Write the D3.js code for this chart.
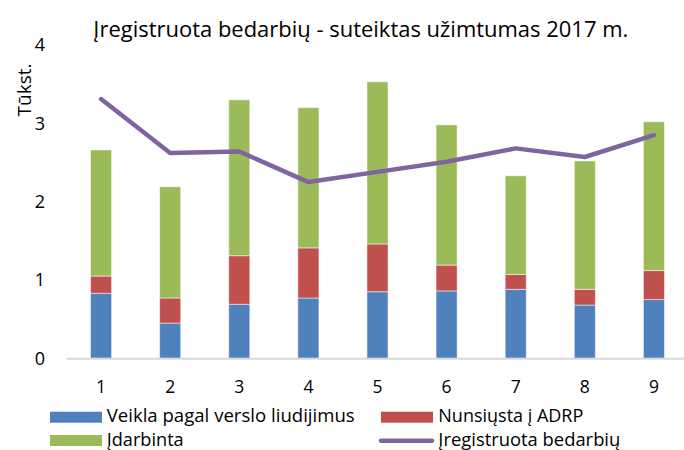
<!DOCTYPE html>
<html><head><meta charset="utf-8">
<script src="https://cdn.jsdelivr.net/npm/d3@7"></script>
<style>body{margin:0;background:#fff}svg{display:block}text{font-family:"Open Sans",sans-serif;fill:#000}</style>
</head><body><svg id="c" width="684" height="450"></svg>
<script>
const categories = ["1","2","3","4","5","6","7","8","9"];
const veikla = [0.83,0.45,0.69,0.77,0.85,0.86,0.88,0.68,0.75];
const nunsiusta = [0.22,0.32,0.62,0.64,0.61,0.33,0.19,0.20,0.37];
const idarbinta = [1.61,1.42,1.99,1.79,2.07,1.79,1.26,1.64,1.90];
const registruota = [3.31,2.62,2.64,2.25,2.38,2.51,2.68,2.57,2.85];
const yTicks = [0,1,2,3,4];
const seriesNames = ["Veikla pagal verslo liudijimus","Nunsiųsta į ADRP","Įdarbinta","Įregistruota bedarbių"];
const colors = ["#4F81BD","#C0504D","#9BBB59","#8064A2"];

const svg = d3.select("#c");
const x = d3.scaleBand().domain(categories).range([66.5,688.5]).paddingInner(0.695).paddingOuter(0.3475);
const y = d3.scaleLinear().domain([0,4]).range([358.3,45]);

const rows = categories.map((c,i)=>({cat:c, v:veikla[i], n:nunsiusta[i], d:idarbinta[i]}));
const stack = d3.stack().keys(["v","n","d"])(rows);

svg.append("text").attr("x",93.3).attr("y",37).attr("text-anchor","start")
  .attr("font-size",22).attr("textLength",535).attr("lengthAdjust","spacingAndGlyphs")
  .text("Įregistruota bedarbių - suteiktas užimtumas 2017 m.");

// y tick labels
svg.append("g").selectAll("text").data(yTicks).join("text")
  .attr("x",40).attr("y",d=>y(d)).attr("dy","0.36em").attr("text-anchor","middle")
  .attr("font-size",18).text(d=>d);

svg.append("text").attr("transform","translate(31,90) rotate(-90)").attr("text-anchor","middle")
  .attr("font-size",19).attr("textLength",53).attr("lengthAdjust","spacingAndGlyphs").text("Tūkst.");

stack.forEach((s,k)=>{
  svg.append("g").selectAll("rect").data(s).join("rect")
    .attr("x",d=>x(d.data.cat)).attr("width",x.bandwidth())
    .attr("y",d=>y(d[1])).attr("height",d=>y(d[0])-y(d[1]))
    .attr("fill",colors[k]).attr("stroke","rgba(255,255,255,0.5)").attr("stroke-width",1);
});

// axis line
svg.append("line").attr("x1",66.5).attr("x2",684).attr("y1",y(0)+0.5).attr("y2",y(0)+0.5)
  .attr("stroke","#D9D9D9").attr("stroke-width",2);

const xAxis = d3.axisBottom(x).tickSize(0).tickPadding(0);
const gx = svg.append("g").attr("transform",`translate(0,${y(0)})`).call(xAxis);
gx.select(".domain").remove();
gx.selectAll("text").attr("font-size",17.5).attr("y",35).attr("dy",0).style("font-family","'Open Sans',sans-serif").attr("fill","#000");

const line = d3.line().x((d,i)=>x(categories[i])+x.bandwidth()/2).y(d=>y(d));
svg.append("path").datum(registruota).attr("d",line).attr("fill","none")
  .attr("stroke",colors[3]).attr("stroke-width",4.5).attr("stroke-linejoin","round").attr("stroke-linecap","round");

// legend
const leg = [
  {x:50,y:417.2,b:422,k:0,w:248},{x:381,y:417.2,b:422,k:1,w:145},
  {x:50,y:440.5,b:446,k:2,w:77},{x:381,y:440.7,b:446,k:3,w:182}
];
leg.forEach(l=>{
  if(l.k<3){
    svg.append("rect").attr("x",l.x).attr("y",l.y-5.5).attr("width",52).attr("height",11).attr("fill",colors[l.k]);
  } else {
    svg.append("line").attr("x1",l.x).attr("x2",l.x+51).attr("y1",l.y).attr("y2",l.y)
      .attr("stroke",colors[3]).attr("stroke-width",4.5).attr("stroke-linecap","round");
  }
  svg.append("text").attr("x",l.k%2===0?106.7:438.3).attr("y",l.b).attr("font-size",17.5)
    .attr("textLength",l.w).attr("lengthAdjust","spacingAndGlyphs").text(seriesNames[l.k]);
});
</script></body></html>
